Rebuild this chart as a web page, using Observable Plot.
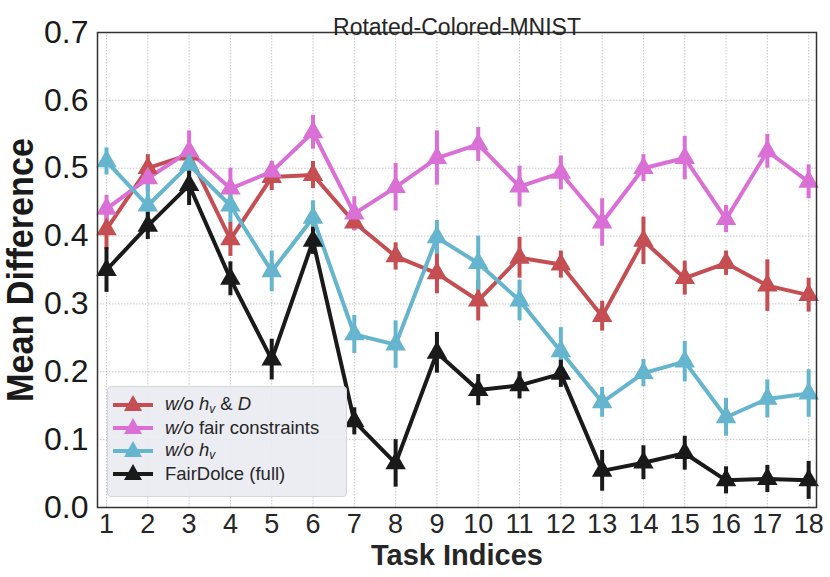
<!DOCTYPE html>
<html>
<head>
<meta charset="utf-8">
<script src="https://cdn.jsdelivr.net/npm/d3@7"></script>
<script src="https://cdn.jsdelivr.net/npm/@observablehq/plot@0.6"></script>
<style>
  html, body { margin: 0; padding: 0; background: #fff; }
  #wrap { position: relative; width: 830px; height: 577px; font-family: "Liberation Sans", Arial, sans-serif; }
  #wrap svg { font-family: "Liberation Sans", Arial, sans-serif; }
  g[aria-label="y-axis tick label"] text { font-size: 32px; }
  g[aria-label="x-axis tick label"] text { font-size: 27px; }
  g[aria-label="y-axis label"] text { font-size: 36px; font-weight: bold; }
  g[aria-label="x-axis label"] text { font-size: 29px; font-weight: bold; }
  #legend { position: absolute; left: 107px; top: 386px; width: 240px; height: 111px; box-sizing: border-box;
    background: rgba(234,234,242,0.9); border: 1px solid #d6d6de; border-radius: 4px; }
  .row { position: absolute; left: 0; height: 23px; display: flex; align-items: center; font-size: 18.5px; color: #262626; white-space: nowrap; }
  .row svg { margin-left: 5px; margin-right: 12px; }
  sub { font-size: 12px; vertical-align: -3px; }
</style>
</head>
<body>
<div id="wrap"></div>
<script>
const tasks = [1,2,3,4,5,6,7,8,9,10,11,12,13,14,15,16,17,18];
const seriesNames = ["w/o h_v & D", "w/o fair constraints", "w/o h_v", "FairDolce (full)"];
const seriesColors = ["#C44E52", "#DA70D6", "#64B5CD", "#1a1a1a"];

const redMean  = [0.410,0.500,0.520,0.395,0.487,0.490,0.420,0.370,0.345,0.305,0.368,0.358,0.282,0.393,0.338,0.360,0.327,0.313];
const redErr   = [0.030,0.020,0.015,0.025,0.020,0.020,0.012,0.020,0.030,0.030,0.030,0.020,0.022,0.035,0.025,0.018,0.038,0.025];
const pinkMean = [0.440,0.485,0.525,0.470,0.495,0.553,0.433,0.472,0.515,0.535,0.473,0.493,0.420,0.500,0.515,0.425,0.525,0.480];
const pinkErr  = [0.020,0.020,0.030,0.030,0.015,0.025,0.025,0.035,0.040,0.025,0.030,0.025,0.035,0.020,0.032,0.020,0.025,0.025];
const cyanMean = [0.510,0.445,0.505,0.445,0.348,0.427,0.255,0.240,0.398,0.360,0.305,0.230,0.155,0.198,0.215,0.133,0.160,0.168];
const cyanErr  = [0.020,0.030,0.030,0.025,0.030,0.025,0.028,0.035,0.025,0.040,0.030,0.035,0.022,0.020,0.030,0.028,0.028,0.035];
const blackMean= [0.350,0.415,0.475,0.337,0.218,0.393,0.127,0.065,0.228,0.173,0.180,0.197,0.054,0.066,0.080,0.040,0.042,0.040];
const blackErr = [0.033,0.020,0.030,0.025,0.030,0.020,0.020,0.035,0.030,0.023,0.020,0.020,0.030,0.025,0.025,0.020,0.020,0.028];
const yTicks = [0.0,0.1,0.2,0.3,0.4,0.5,0.6,0.7];

const means = [redMean, pinkMean, cyanMean, blackMean];
const errs = [redErr, pinkErr, cyanErr, blackErr];
const data = [];
seriesNames.forEach((s, i) => tasks.forEach((t, j) => data.push({series: s, task: t, y: means[i][j], e: errs[i][j]})));

const color = {domain: seriesNames, range: seriesColors};

const chart = Plot.plot({
  width: 830, height: 577,
  marginLeft: 97, marginRight: 14, marginTop: 32, marginBottom: 70,
  x: {domain: [0.782, 18.19], ticks: tasks, tickFormat: d => String(d)},
  y: {domain: [0, 0.7], ticks: yTicks, tickFormat: d => d.toFixed(1)},
  color,
  marks: [
    Plot.gridX(tasks, {stroke: "#b0b0b0", strokeOpacity: 0.7, strokeDasharray: "1.5,1.5", strokeWidth: 1}),
    Plot.gridY(yTicks, {stroke: "#b0b0b0", strokeOpacity: 0.7, strokeDasharray: "1.5,1.5", strokeWidth: 1}),
    Plot.axisY({ticks: yTicks, tickFormat: d => d.toFixed(1), tickSize: 0, tickPadding: 9, label: "Mean Difference", labelAnchor: "center", labelArrow: "none", labelOffset: 90, color: "#1a1a1a"}),
    Plot.axisX({ticks: tasks, tickFormat: d => String(d), tickSize: 0, tickPadding: 6, label: "Task Indices", labelAnchor: "center", labelArrow: "none", labelOffset: 57, color: "#262626"}),
    Plot.ruleX(data, {x: "task", y1: d => d.y - d.e, y2: d => d.y + d.e, stroke: d => d.series, strokeWidth: 4}),
    Plot.line(data, {x: "task", y: "y", z: "series", stroke: d => d.series, strokeWidth: 4}),
    Plot.dot(data, {x: "task", y: "y", fill: d => d.series, symbol: "triangle", r: 7.6, stroke: null}),
    Plot.frame({stroke: "#333", strokeWidth: 1.5}),
    Plot.text(["Rotated-Colored-MNIST"], {frameAnchor: "top", dy: -14, fontSize: 23, fill: "#262626"})
  ]
});
const wrap = document.getElementById("wrap");
wrap.appendChild(chart);
const yl = chart.querySelector('g[aria-label="y-axis label"] text');
if (yl) { yl.setAttribute("textLength", "264"); yl.setAttribute("lengthAdjust", "spacingAndGlyphs"); }

const labels = [
  '<i>w/o h<sub>v</sub></i> &amp; <i>D</i>',
  '<i>w/o</i> fair constraints',
  '<i>w/o h<sub>v</sub></i>',
  'FairDolce (full)'
];
const leg = document.createElement("div");
leg.id = "legend";
seriesNames.forEach((s, i) => {
  const row = document.createElement("div");
  row.className = "row";
  row.style.top = (6 + i * 23) + "px";
  const c = seriesColors[i];
  row.innerHTML = `<svg width="40" height="22"><line x1="0" x2="40" y1="11" y2="11" stroke="${c}" stroke-width="4"/><path d="M20,1 L29,17 L11,17 Z" fill="${c}"/></svg><span>${labels[i]}</span>`;
  leg.appendChild(row);
});
wrap.appendChild(leg);
</script>
</body>
</html>
